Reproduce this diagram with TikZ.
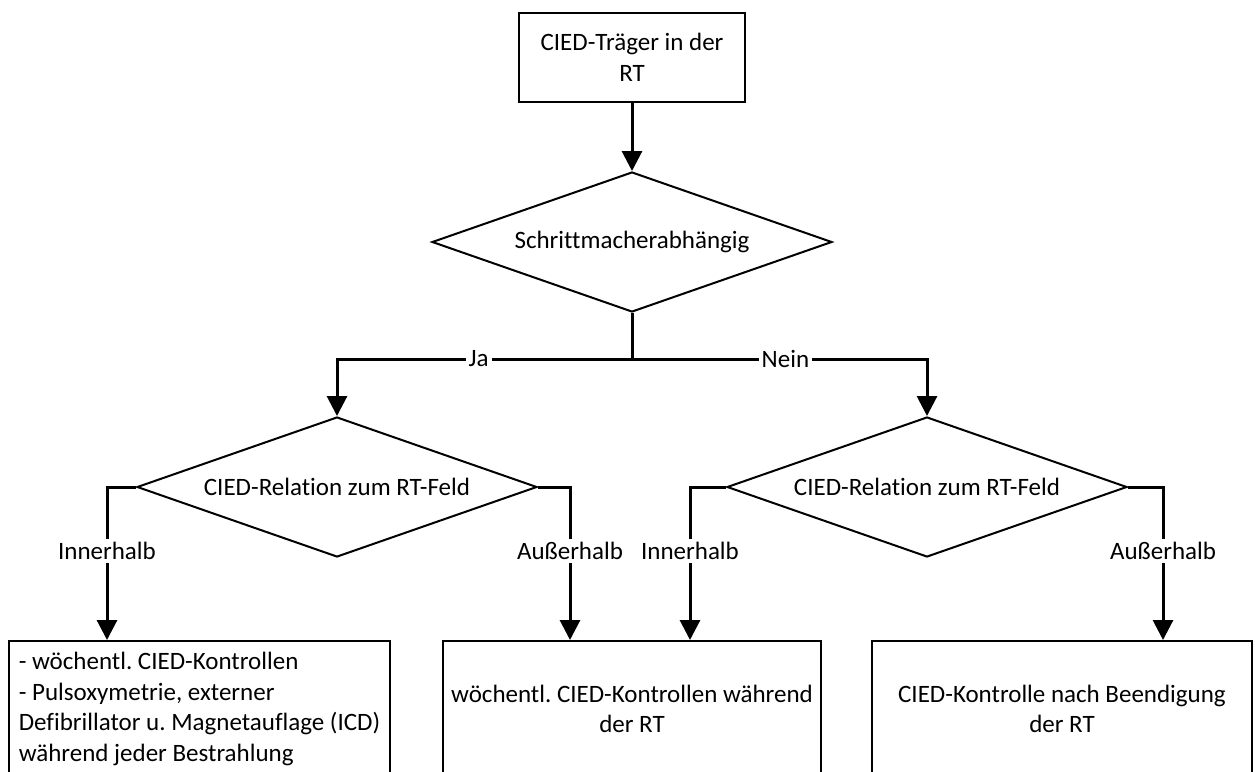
\documentclass[tikz,border=0pt]{standalone}
\usepackage{fontspec}
\setmainfont{Carlito}[Ligatures=CommonOff]
\usetikzlibrary{shapes.geometric,arrows.meta,positioning}
\frenchspacing
\begin{document}
\begin{tikzpicture}[x=1pt,y=-1pt,
  font=\fontsize{25}{30.5}\selectfont,
  box/.style={draw,line width=2pt,align=center},
  decision/.style={draw,diamond,aspect=2.857,line width=2pt,minimum width=400pt,minimum height=140pt,inner sep=0pt},
  conn/.style={line width=3pt},
  arr/.style={conn,-{Triangle[length=20pt,width=20pt]}},
  lab/.style={fill=white,inner sep=3pt}]
\useasboundingbox (0,0) rectangle (1255,771);
% boxes and decisions
\node[box,minimum width=226pt,minimum height=89pt] (start) at (632,57.5) {CIED-Träger in der\\RT};
\node[decision] (dep) at (632,242) {Schrittmacherabhängig};
\node[decision] (relja) at (337,487) {CIED-Relation zum RT-Feld};
\node[decision] (relnein) at (927,487) {CIED-Relation zum RT-Feld};
\node[box,anchor=north,minimum height=136pt,minimum width=381pt,align=left] (checks) at (199.5,640)
  {- wöchentl. CIED-Kontrollen\\- Pulsoxymetrie, externer\\Defibrillator u. Magnetauflage (ICD)\\während jeder Bestrahlung};
\node[box,anchor=north,minimum height=136pt,minimum width=378pt] (weekly) at (632,640)
  {wöchentl. CIED-Kontrollen während\\der RT};
\node[box,anchor=north,minimum height=136pt,minimum width=380pt] (after) at (1062,640)
  {CIED-Kontrolle nach Beendigung\\der RT};
% branch points
\coordinate (split) at (632,359);
\coordinate[left=29pt of relja.west] (jain);
\coordinate[right=32pt of relja.east] (jaout);
\coordinate[left=36pt of relnein.west] (neinin);
\coordinate[right=35pt of relnein.east] (neinout);
% connectors
\draw[arr] (start) -- (dep);
\draw[conn] (dep.south) -- (split);
\draw[arr] (split) -| node[lab,pos=0.26] {Ja} (relja.north);
\draw[arr] (split) -| node[lab,pos=0.26] {Nein} (relnein.north);
\draw[arr] (relja.west) -| node[lab,pos=0.71] {Innerhalb} (jain |- checks.north);
\draw[arr] (relja.east) -| node[lab,pos=0.71] {Außerhalb} (jaout |- weekly.north);
\draw[arr] (relnein.west) -| node[lab,pos=0.71] {Innerhalb} (neinin |- weekly.north);
\draw[arr] (relnein.east) -| node[lab,pos=0.71] {Außerhalb} (neinout |- after.north);
\end{tikzpicture}
\end{document}
